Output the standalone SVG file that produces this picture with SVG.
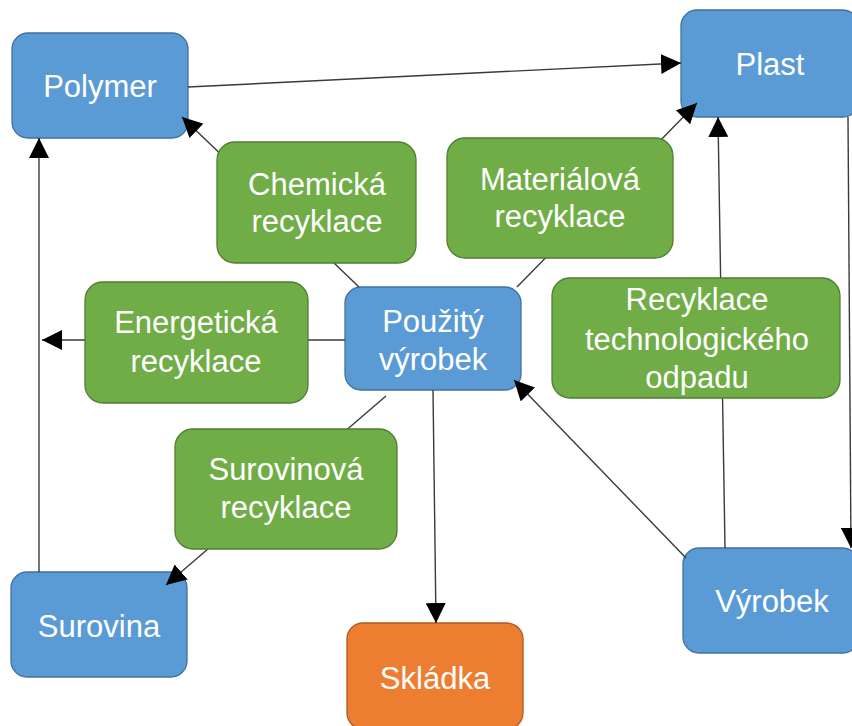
<svg xmlns="http://www.w3.org/2000/svg" width="852" height="726" viewBox="0 0 852 726">
<defs>
<style>
.blue{fill:#5B9BD5;stroke:#41719C;stroke-width:1.3}
.green{fill:#70AD47;stroke:#507E32;stroke-width:1.3}
.orange{fill:#ED7D31;stroke:#AE5A21;stroke-width:1.3}
text{font-family:"Liberation Sans",Arial,sans-serif;font-size:31px;fill:#FFFFFF;text-anchor:middle}
.c{stroke:#3A3A3A;stroke-width:1.4;fill:none}
.a{marker-end:url(#ah)}
</style>
<marker id="ah" markerUnits="userSpaceOnUse" markerWidth="20" markerHeight="20" refX="20" refY="10" orient="auto" viewBox="0 0 20 20">
<path d="M0,0 L20,10 L0,20 z" fill="#000"/>
</marker>
</defs>
<rect width="852" height="726" fill="#FFFFFF"/>
<g id="polymer"><rect class="blue" x="12" y="33" width="176" height="105" rx="16"/><text x="100" y="97">Polymer</text></g>
<g id="plast"><rect class="blue" x="681" y="10" width="178" height="107" rx="16"/><text x="770" y="75">Plast</text></g>
<g id="vyrobek"><rect class="blue" x="683" y="548" width="176" height="105" rx="16"/><text x="772" y="612">Výrobek</text></g>
<g id="surovina"><rect class="blue" x="11" y="572" width="176" height="105" rx="16"/><text x="99" y="637">Surovina</text></g>
<g id="skladka"><rect class="orange" x="347" y="623" width="176" height="106" rx="16"/><text x="435" y="689">Skládka</text></g>
<g id="pouzity"><rect class="blue" x="345" y="287" width="176" height="103" rx="16"/><text x="433" y="332">Použitý</text><text x="433" y="370">výrobek</text></g>
<g id="connectors">
<line class="c a" x1="188" y1="87" x2="681" y2="63"/>
<line class="c a" x1="359" y1="287" x2="182" y2="117"/>
<line class="c a" x1="517" y1="287" x2="697" y2="103"/>
<line class="c a" x1="345" y1="340" x2="42" y2="340"/>
<line class="c a" x1="39" y1="572" x2="39" y2="138"/>
<line class="c a" x1="386" y1="396" x2="166" y2="585"/>
<line class="c a" x1="433" y1="390" x2="436" y2="623"/>
<line class="c a" x1="686" y1="558" x2="514" y2="380"/>
<line class="c a" x1="725" y1="548" x2="718" y2="117"/>
<line class="c a" x1="848" y1="117" x2="851" y2="548"/>
</g>
<g id="chemicka"><rect class="green" x="217" y="142" width="199" height="121" rx="18"/><text x="317" y="195">Chemická</text><text x="317" y="232">recyklace</text></g>
<g id="materialova"><rect class="green" x="447" y="138" width="226" height="120" rx="18"/><text x="560" y="190">Materiálová</text><text x="560" y="227">recyklace</text></g>
<g id="energeticka"><rect class="green" x="85" y="282" width="223" height="121" rx="18"/><text x="196" y="333">Energetická</text><text x="196" y="372">recyklace</text></g>
<g id="technologicky"><rect class="green" x="552" y="278" width="288" height="120" rx="18"/><text x="697" y="310">Recyklace</text><text x="697" y="350">technologického</text><text x="697" y="388">odpadu</text></g>
<g id="surovinova"><rect class="green" x="175" y="429" width="222" height="120" rx="18"/><text x="286" y="480">Surovinová</text><text x="286" y="518">recyklace</text></g>
</svg>
